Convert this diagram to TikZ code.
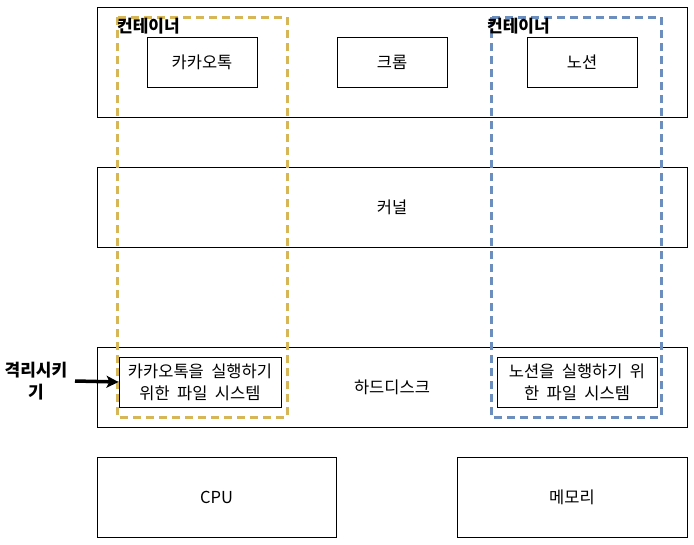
\documentclass[tikz,border=0pt]{standalone}
\usepackage{fontspec}
\setmainfont[WordSpace=2]{Noto Sans CJK KR}
\usetikzlibrary{arrows.meta}
\begin{document}
\begin{tikzpicture}[x=1pt,y=-1pt,
  box/.style={draw=black,line width=1pt,fill=white,inner sep=0pt},
  lbl/.style={font=\fontsize{16.5}{22}\selectfont,inner sep=0pt},
  blbl/.style={font=\bfseries\fontsize{17}{22}\selectfont,inner sep=0pt},
  ydash/.style={draw={rgb,255:red,214;green,182;blue,86},line width=3pt,dash pattern=on 8pt off 5pt},
  bdash/.style={draw={rgb,255:red,108;green,142;blue,191},line width=3pt,dash pattern=on 8pt off 5pt}]
\useasboundingbox (0,0) rectangle (694,544);
% layers
\node[box,minimum width=590pt,minimum height=110pt] (top) at (392,62) {};
\node[box,minimum width=590pt,minimum height=80pt] (kern) at (392,207) {};
\node[lbl] (kernt) at (392,207) {커널};
\node[box,minimum width=590pt,minimum height=80pt] (disk) at (392,387) {};
\node[lbl] (diskt) at (392,387) {하드디스크};
\node[box,minimum width=239pt,minimum height=80pt,lbl] (cpu) at (216.5,497) {CPU};
\node[box,minimum width=230pt,minimum height=80pt,lbl] (mem) at (572,497) {메모리};
% apps
\node[box,minimum width=110pt,minimum height=50pt,lbl] (kakao) at (202,62) {카카오톡};
\node[box,minimum width=110pt,minimum height=50pt,lbl] (chrome) at (392,62) {크롬};
\node[box,minimum width=110pt,minimum height=50pt,lbl] (notion) at (582,62) {노션};
% file systems
\node[box,minimum width=162pt,minimum height=50pt,lbl,align=center] (fsk) at (200,382) {카카오톡을 실행하기\\위한 파일 시스템};
\node[box,minimum width=160pt,minimum height=50pt,lbl,align=center] (fsn) at (577,382) {노션을 실행하기 위\\한 파일 시스템};
% containers
\draw[ydash] (117,17) rectangle (287,417);
\draw[bdash] (491,17) rectangle (661,417);
\node[blbl,anchor=west] (c1) at (117,26) {컨테이너};
\node[blbl,anchor=west] (c2) at (487,26) {컨테이너};
% isolate
\node[blbl,align=center] (iso) at (36,381) {격리시키\\기};
\draw[line width=3.5pt,-{Stealth[length=12pt,width=12pt,inset=3pt]}] (75,381) -- (fsk.west);
\end{tikzpicture}
\end{document}
